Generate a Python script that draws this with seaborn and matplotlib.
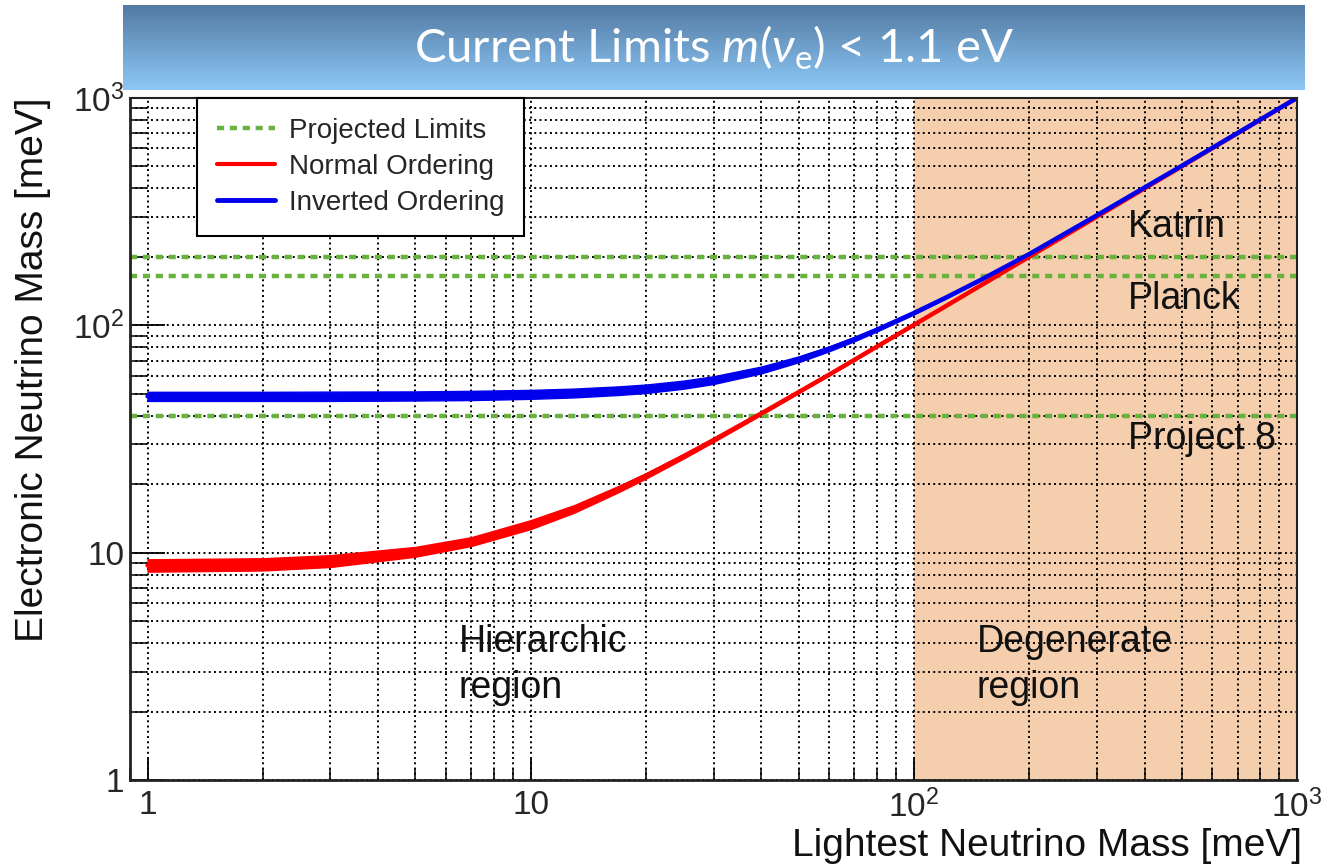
import numpy as np
import pandas as pd
import matplotlib
matplotlib.use("Agg")
import matplotlib.pyplot as plt
from matplotlib.lines import Line2D
from matplotlib.ticker import FuncFormatter, LogLocator, NullFormatter
import seaborn as sns

# Lightest neutrino mass [meV]
lightest_mass = [1, 2, 3, 5, 7, 10, 13, 17, 20, 25, 30, 40, 50, 60, 70, 80,
                 100, 120, 150, 200, 300, 500, 700, 1000]

# Effective electron-neutrino mass band [meV], normal ordering
normal_low = [8.25, 8.35, 8.65, 9.6, 10.7, 12.7, 15.0, 18.5, 21.2, 25.9, 30.7, 40.4,
              50.3, 60.1, 70.1, 80.1, 100.0, 120.0, 150.0, 200.0, 300.0, 500.0, 700.0, 1000.0]
normal_high = [9.35, 9.45, 9.75, 10.6, 11.7, 13.9, 16.2, 19.7, 22.4, 27.1, 31.9, 41.6,
               51.3, 61.1, 71.0, 81.0, 100.8, 120.6, 150.5, 200.4, 300.3, 500.2, 700.1, 1000.0]

# Effective electron-neutrino mass band [meV], inverted ordering
inverted_low = [46.5, 46.5, 46.5, 46.7, 46.9, 47.5, 48.2, 49.4, 50.4, 52.6, 55.2, 61.5,
                68.8, 76.8, 85.2, 93.9, 111.7, 129.9, 157.6, 204.6, 303.5, 502.2, 701.5, 1001.0]
inverted_high = [51.0, 51.0, 51.1, 51.2, 51.5, 52.0, 52.7, 53.9, 54.9, 57.1, 59.7, 65.9,
                 73.0, 80.7, 88.9, 97.4, 114.9, 132.9, 160.3, 207.0, 305.5, 503.5, 702.5, 1002.0]

# Projected sensitivities [meV]
limit_names = ["Katrin", "Planck", "Project 8"]
limit_values = [200, 165, 40]
limit_label_y = [270, 130, 31.5]

orderings = ["Normal Ordering", "Inverted Ordering"]
order_colors = {"Normal Ordering": "#ff0000", "Inverted Ordering": "#0000ee"}

# Long-form table: each mass has a lower and an upper bound per ordering
rows = []
for name, lo, hi in [("Normal Ordering", normal_low, normal_high),
                     ("Inverted Ordering", inverted_low, inverted_high)]:
    for m, a, b in zip(lightest_mass, lo, hi):
        rows.append({"mass": m, "m_ee": a, "ordering": name})
        rows.append({"mass": m, "m_ee": b, "ordering": name})
df = pd.DataFrame(rows)

sns.set_theme(style="white")
plt.rcParams["font.family"] = ["Liberation Sans", "DejaVu Sans"]
plt.rcParams["mathtext.fontset"] = "custom"
plt.rcParams["mathtext.rm"] = "Lato"
plt.rcParams["mathtext.it"] = "Lato:italic"

fig = plt.figure(figsize=(13.24, 8.68), dpi=100)
ax = fig.add_axes([130 / 1324, 1 - 780 / 868, 1167 / 1324, 682 / 868])
ax.set_xscale("log")
ax.set_yscale("log")
ax.set_xlim(0.9, 1000)
ax.set_ylim(1, 1000)

# Degenerate region shading
ax.axvspan(100, 1000, color="#f5cfad", zorder=0, lw=0)

# Projected limit lines
for v in limit_values:
    ax.axhline(v, color="#6ab23e", lw=3.2, linestyle=(0, (1.6, 1.3)),
               dash_capstyle="butt", zorder=2)

# Mass bands for both orderings
for name in orderings:
    sub = df[df["ordering"] == name]
    sns.lineplot(data=sub, x="mass", y="m_ee", ax=ax, color=order_colors[name],
                 estimator="mean", errorbar=("pi", 100), lw=3.2,
                 err_kws={"alpha": 1.0, "linewidth": 1.0, "edgecolor": order_colors[name]},
                 zorder=3, legend=False)

# Grid
ax.grid(True, which="both", color="black", linestyle=(0, (1, 1.7)), lw=1.4, zorder=1.5)

# Ticks
ax.xaxis.set_major_locator(LogLocator(base=10, numticks=10))
ax.xaxis.set_minor_locator(LogLocator(base=10, subs=np.arange(2, 10), numticks=20))
ax.yaxis.set_major_locator(LogLocator(base=10, numticks=10))
ax.yaxis.set_minor_locator(LogLocator(base=10, subs=np.arange(2, 10), numticks=20))


def fmt(v, pos):
    e = int(round(np.log10(v)))
    if e == 0:
        return "1"
    if e == 1:
        return "10"
    return r"$\mathregular{10^{%d}}$" % e


ax.xaxis.set_major_formatter(FuncFormatter(fmt))
ax.yaxis.set_major_formatter(FuncFormatter(fmt))
ax.xaxis.set_minor_formatter(NullFormatter())
ax.yaxis.set_minor_formatter(NullFormatter())
ax.tick_params(axis="x", which="major", direction="in", length=15, width=1.3,
               labelsize=24, pad=7, color="black", bottom=True, top=False)
ax.tick_params(axis="x", which="minor", direction="in", length=9, width=1.1,
               bottom=True, top=False, color="black")
ax.tick_params(axis="y", which="major", direction="in", length=25, width=1.3,
               labelsize=24, pad=4, color="black", left=True, right=False)
ax.tick_params(axis="y", which="minor", direction="in", length=12, width=1.1,
               left=True, right=False, color="black")

for side, sp in ax.spines.items():
    sp.set_color("#222222")
    sp.set_linewidth(2.0 if side in ("left", "bottom") else 1.5)
    sp.set_zorder(5)

# Axis titles
ax.set_ylabel("Electronic Neutrino Mass [meV]", fontsize=28, loc="top", color="#111111")
ax.yaxis.set_label_coords(-0.068, 1.0)
ax.set_xlabel("Lightest Neutrino Mass [meV]", fontsize=28, loc="right", color="#111111")
ax.xaxis.set_label_coords(1.004, -0.07)

# Annotations
for name, y in zip(limit_names, limit_label_y):
    ax.text(362, y, name, fontsize=27, va="center", ha="left", color="#111111", zorder=4)
ax.text(6.48, 3.2, "Hierarchic\nregion", fontsize=27, va="center", ha="left",
        linespacing=1.35, color="#111111", zorder=4)
ax.text(146, 3.2, "Degenerate\nregion", fontsize=27, va="center", ha="left",
        linespacing=1.35, color="#111111", zorder=4)

# Legend
handles = [
    Line2D([], [], color="#6ab23e", lw=3.2, linestyle=(0, (1.6, 1.3))),
    Line2D([], [], color=order_colors["Normal Ordering"], lw=3),
    Line2D([], [], color=order_colors["Inverted Ordering"], lw=3.5),
]
leg = ax.legend(handles, ["Projected Limits", "Normal Ordering", "Inverted Ordering"],
                loc="upper left", bbox_to_anchor=(0.057, 1.0), borderaxespad=0,
                fontsize=20, frameon=True, fancybox=False, framealpha=1,
                edgecolor="black", handlelength=2.1, handletextpad=0.5,
                labelspacing=0.36, borderpad=0.72)
leg.get_frame().set_linewidth(1.5)
leg.set_zorder(6)

# Title banner with vertical gradient
bax = fig.add_axes([123 / 1324, 1 - 90 / 868, 1182 / 1324, 85 / 868])
grad = np.linspace(0, 1, 256)[:, None]
top_c = np.array([82, 122, 163]) / 255
bot_c = np.array([142, 200, 246]) / 255
img = top_c[None, None, :] * (1 - grad[:, :, None]) + bot_c[None, None, :] * grad[:, :, None]
bax.imshow(img, aspect="auto", extent=[0, 1, 0, 1], origin="upper")
bax.set_xlim(0, 1)
bax.set_ylim(0, 1)
bax.axis("off")
bax.text(0.5, 0.5, r"Current Limits $m(\nu_\mathrm{e})$ < 1.1 eV", color="white",
         fontsize=34, ha="center", va="center", family=["Lato", "DejaVu Sans"])

fig.savefig("out.png", dpi=100)
